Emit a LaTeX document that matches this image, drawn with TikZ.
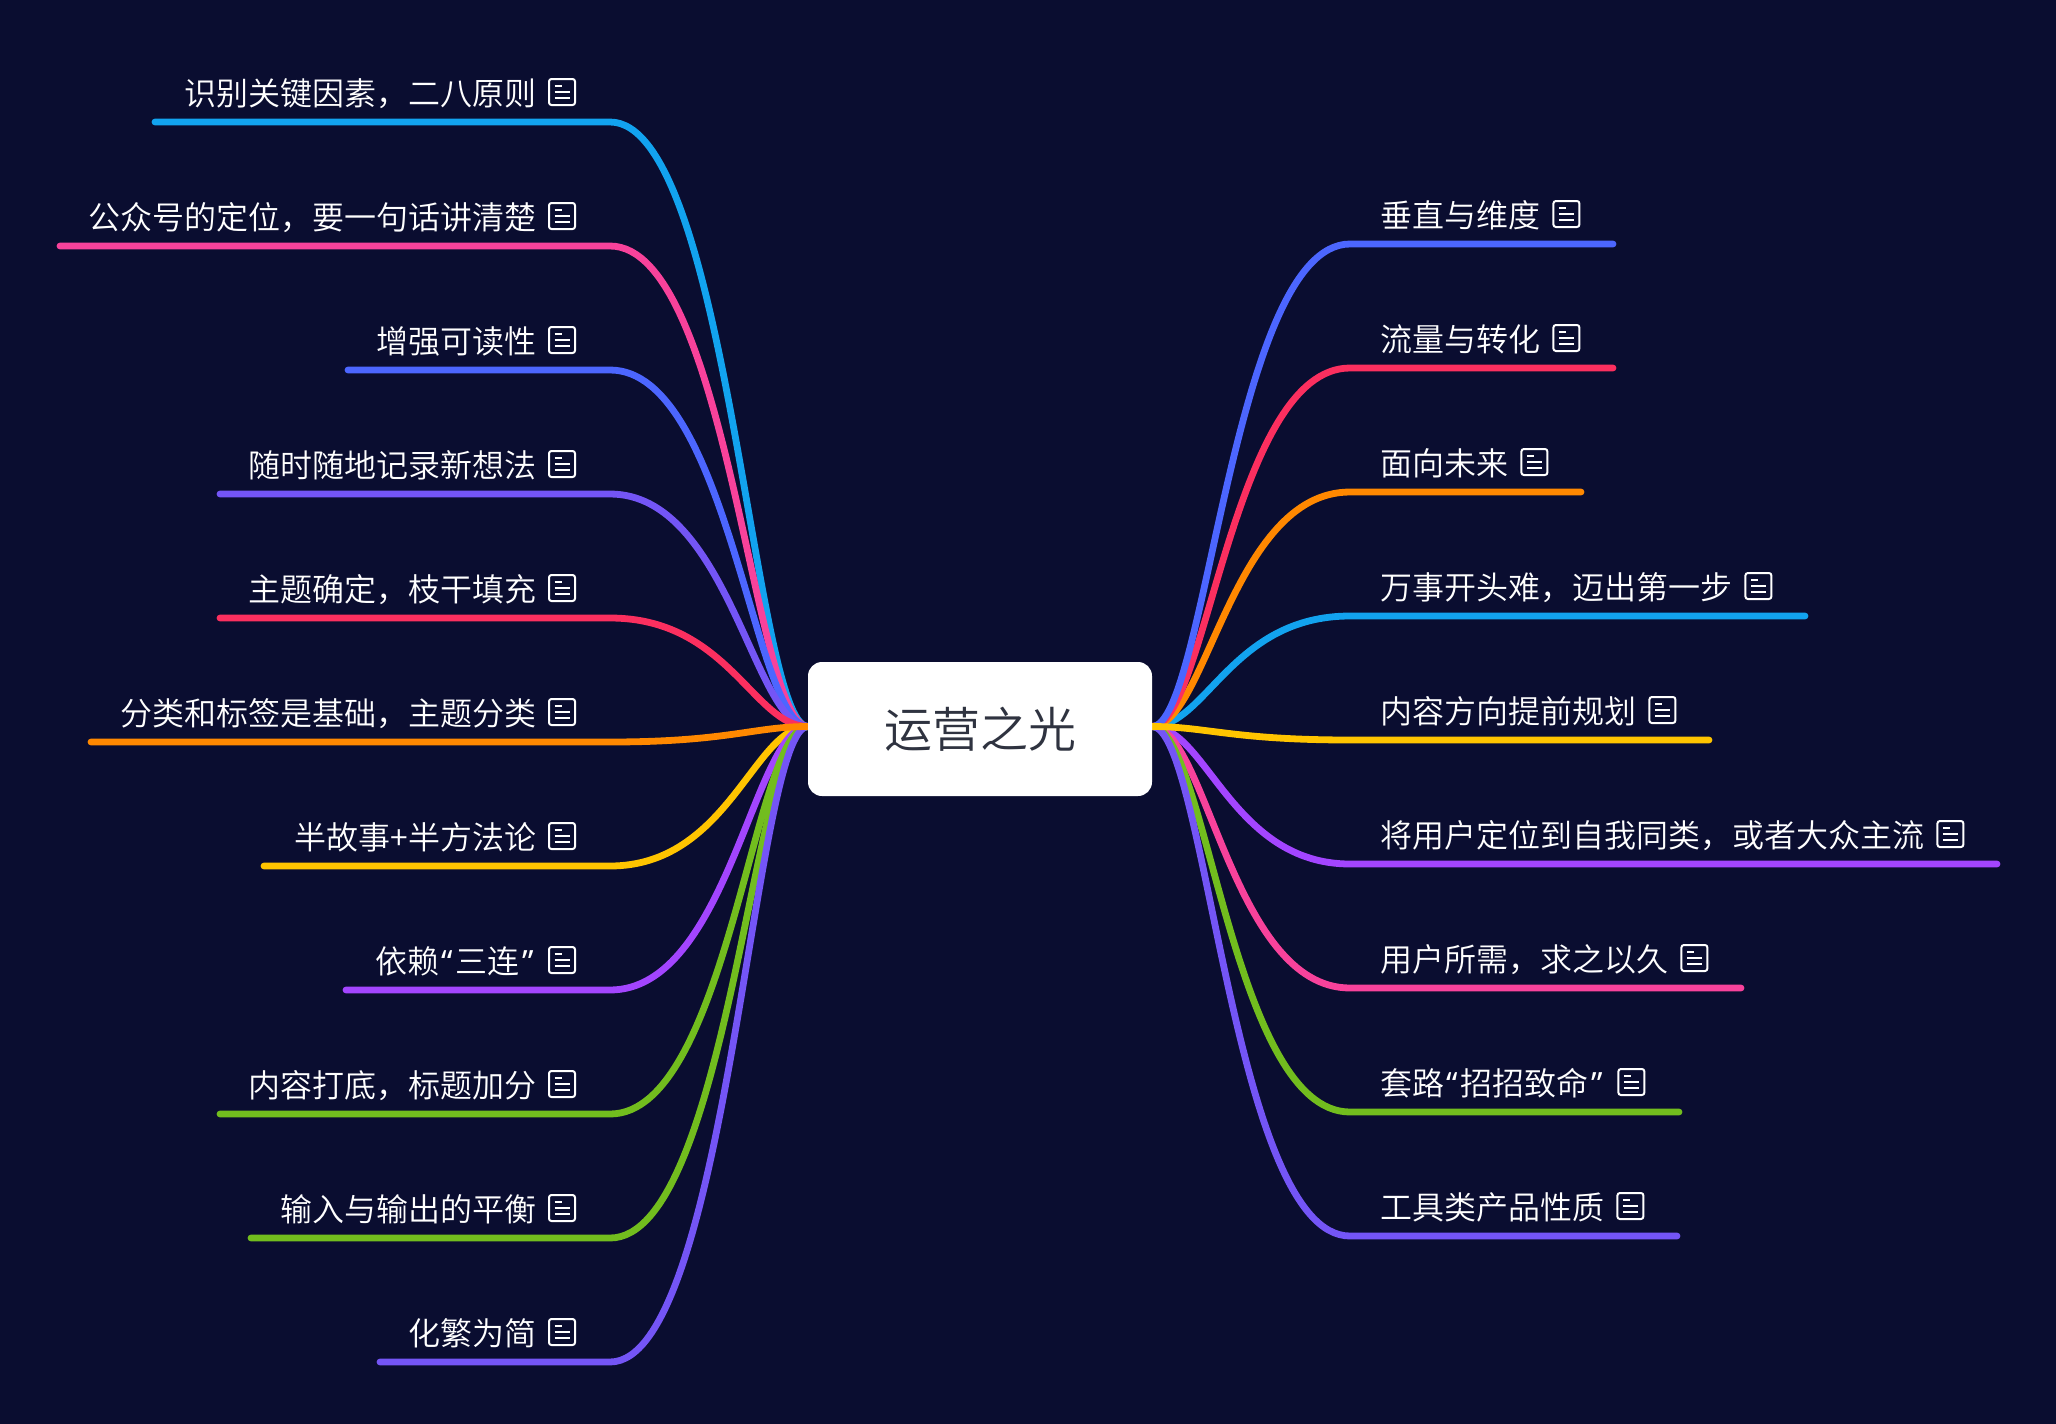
\documentclass[tikz,border=0pt]{standalone}
\usepackage{fontspec}
\usetikzlibrary{calc}
\setmainfont{Noto Sans CJK SC DemiLight}
\newfontfamily\latf{Noto Sans}
\definecolor{bgc}{HTML}{0A0D30}
\definecolor{cblue}{HTML}{12A3EF}
\definecolor{cpink}{HTML}{F8429B}
\definecolor{cperi}{HTML}{4C66FF}
\definecolor{cviol}{HTML}{7455F6}
\definecolor{cred}{HTML}{FB2F5F}
\definecolor{corange}{HTML}{FF8800}
\definecolor{cyellow}{HTML}{FFC400}
\definecolor{cpurp}{HTML}{A345FF}
\definecolor{cgreen}{HTML}{72BD1E}
\definecolor{cdark}{HTML}{2F3340}
\newcommand{\lqt}{\kern2pt{\latf “}\kern3pt}
\newcommand{\rqt}{\kern3pt{\latf ”}\kern2pt}
\tikzset{
  rootbox/.style={fill=white,rounded corners=14pt,minimum width=344pt,minimum height=134pt,inner sep=0pt,text=cdark,font=\fontsize{48pt}{50pt}\selectfont},
  leaflabel/.style={text=white,inner sep=0pt,font=\fontsize{32pt}{36pt}\selectfont},
  noteicon/.style={draw=white,line width=2pt,rounded corners=2.5pt,minimum width=26pt,minimum height=26pt,inner sep=0pt,
    path picture={
      \draw[white,line width=2pt] ($(path picture bounding box.center)+(-7.5,-6)$) -- ++(7,0);
      \draw[white,line width=2pt] ($(path picture bounding box.center)+(-7.5,0)$) -- ++(15,0);
      \draw[white,line width=2pt] ($(path picture bounding box.center)+(-7.5,5.5)$) -- ++(15,0);
    }},
  branchline/.style={line width=6.8pt,line cap=round}
}
\begin{document}
\begin{tikzpicture}[x=1pt,y=-1pt]
\path[use as bounding box,fill=bgc] (0,0) rectangle (2056,1424);
\coordinate (rootL) at (808,726.5);
\coordinate (rootR) at (1152,726.5);
% left branches: index / y of line / x of free end / colour / label
\foreach \i/\yy/\xs/\cc/\lbl in {
  7/866/264/cyellow/半故事+半方法论,
  8/990/346/cpurp/依赖\lqt 三连\rqt,
  9/1114/220/cgreen/内容打底，标题加分,
  10/1238/251/cgreen/输入与输出的平衡,
  11/1362/380/cviol/化繁为简,
  1/122/155/cblue/识别关键因素，二八原则,
  2/246/60/cpink/公众号的定位，要一句话讲清楚,
  3/370/348/cperi/增强可读性,
  4/494/220/cviol/随时随地记录新想法,
  5/618/220/cred/主题确定，枝干填充,
  6/742/91/corange/分类和标签是基础，主题分类}{
  \coordinate (L\i end) at (\xs,\yy);
  \coordinate (L\i bend) at (610,\yy);
  \draw[branchline,\cc] (rootL) .. controls (754,726.5) and (728,\yy) .. (L\i bend) -- (L\i end);
  \node[leaflabel,anchor=base east] (L\i text) at (536.5,\yy-17) {\lbl};
  \node[noteicon] (L\i note) at (562,\yy-30) {};
}
% right branches
\foreach \i/\yy/\xe/\cc/\lbl in {
  6/864/1997/cpurp/将用户定位到自我同类，或者大众主流,
  7/988/1741/cpink/用户所需，求之以久,
  8/1112/1679/cgreen/套路\lqt 招招致命\rqt,
  9/1236/1677/cviol/工具类产品性质,
  4/616/1805/cblue/万事开头难，迈出第一步,
  3/492/1581/corange/面向未来,
  2/368/1613/cred/流量与转化,
  1/244/1613/cperi/垂直与维度,
  5/740/1709/cyellow/内容方向提前规划}{
  \coordinate (R\i end) at (\xe,\yy);
  \coordinate (R\i bend) at (1350,\yy);
  \draw[branchline,\cc] (rootR) .. controls (1206,726.5) and (1232,\yy) .. (R\i bend) -- (R\i end);
  \node[leaflabel,anchor=base west] (R\i text) at (1380,\yy-17) {\lbl};
  \node[noteicon] (R\i note) at ($(R\i text.base east)+(26,-13)$) {};
}
\node[rootbox] (root) at (980,729) {运营之光};
\end{tikzpicture}
\end{document}
